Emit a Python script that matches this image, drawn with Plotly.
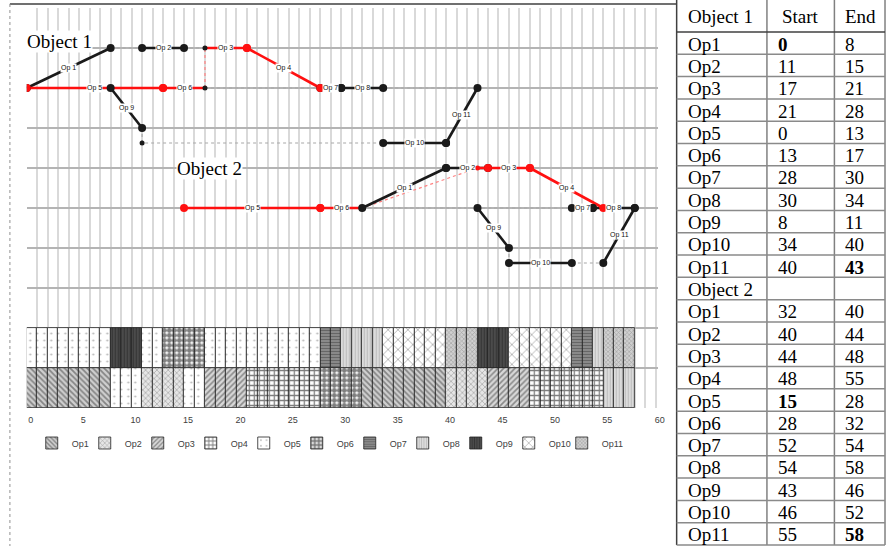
import plotly.graph_objects as go

W, H = 893, 546

# ---------------- data ----------------
ops = ["Op1", "Op2", "Op3", "Op4", "Op5", "Op6", "Op7", "Op8", "Op9", "Op10", "Op11"]
obj1_start = [0, 11, 17, 21, 0, 13, 28, 30, 8, 34, 40]
obj1_end = [8, 15, 21, 28, 13, 17, 30, 34, 11, 40, 43]
obj2_start = [32, 40, 44, 48, 15, 28, 52, 54, 43, 46, 55]
obj2_end = [40, 44, 48, 55, 28, 32, 54, 58, 46, 52, 58]
bold_cells = [("Object 1", "Op1", "start"), ("Object 1", "Op11", "end"),
              ("Object 2", "Op5", "start"), ("Object 2", "Op11", "end")]

# network node levels (rows of the diagram)
obj1_lvl_start = [8, 9, 9, 9, 8, 8, 8, 8, 8, 6.625, 6.625]
obj1_lvl_end = [9, 9, 9, 8, 8, 8, 8, 8, 7, 6.625, 8]
obj2_lvl_start = [5, 6, 6, 6, 5, 5, 5, 5, 5, 3.625, 3.625]
obj2_lvl_end = [6, 6, 6, 5, 5, 5, 5, 5, 4, 3.625, 5]
critical = [False, False, True, True, True, True, False, False, False, False, False]

# Gantt rows
rowA_ops = ["Op5", "Op9", "Op5", "Op6", "Op5", "Op7", "Op8", "Op10", "Op11", "Op9", "Op10", "Op7", "Op8", "Op11"]
rowA_start = [0, 8, 11, 13, 17, 28, 30, 34, 40, 43, 46, 52, 54, 55]
rowA_end = [8, 11, 13, 17, 28, 30, 34, 40, 43, 46, 52, 54, 55, 58]
rowB_ops = ["Op1", "Op5", "Op2", "Op5", "Op3", "Op4", "Op6", "Op1", "Op2", "Op3", "Op4", "Op8"]
rowB_start = [0, 8, 11, 15, 17, 21, 28, 32, 40, 44, 48, 55]
rowB_end = [8, 11, 15, 17, 21, 28, 32, 40, 44, 48, 55, 58]

x_ticks = list(range(0, 61))
x_tick_labels = [str(v) if v % 5 == 0 else "" for v in x_ticks]

# ---------------- styles ----------------
RED = "#ff1010"
BLK = "#1a1a1a"
GRAY_DOT = "#a8a8a8"
patterns = {
    "Op1": dict(shape="\\", fgcolor="#3a3a3a", bgcolor="#cfcfcf", size=4, solidity=0.45),
    "Op2": dict(shape="x", fgcolor="#5a5a5a", bgcolor="#e6e6e6", size=4, solidity=0.3),
    "Op3": dict(shape="/", fgcolor="#3a3a3a", bgcolor="#d8d8d8", size=4, solidity=0.4),
    "Op4": dict(shape="+", fgcolor="#000000", bgcolor="#ffffff", size=5, solidity=0.45),
    "Op5": dict(shape=".", fgcolor="#777777", bgcolor="#ffffff", size=7, solidity=0.08),
    "Op6": dict(shape=".", fgcolor="#000000", bgcolor="#ffffff", size=5, solidity=0.75),
    "Op7": dict(shape="-", fgcolor="#404040", bgcolor="#8c8c8c", size=3, solidity=0.4),
    "Op8": dict(shape="|", fgcolor="#9a9a9a", bgcolor="#dedede", size=3, solidity=0.4),
    "Op9": dict(shape="|", fgcolor="#1e1e1e", bgcolor="#4d4d4d", size=3, solidity=0.4),
    "Op10": dict(shape="x", fgcolor="#6a6a6a", bgcolor="#ffffff", size=7, solidity=0.25),
    "Op11": dict(shape="x", fgcolor="#6a6a6a", bgcolor="#d0d0d0", size=3, solidity=0.35),
}

fig = go.Figure()

# ---------------- Gantt bars ----------------
rows = [(rowA_ops, rowA_start, rowA_end, 1.5), (rowB_ops, rowB_start, rowB_end, 0.5)]
for op in ops:
    bases, ys = [], []
    for r_ops, r_s, r_e, yc in rows:
        for o, s, e in zip(r_ops, r_s, r_e):
            if o == op:
                for k in range(s, e):
                    bases.append(k)
                    ys.append(yc)
    p = patterns[op]
    fig.add_trace(go.Bar(
        orientation="h", x=[1] * len(bases), base=bases, y=ys, width=1, name=op,
        marker=dict(color=p["bgcolor"], pattern=p, line=dict(color="#222222", width=0.8)),
        hoverinfo="skip"))
# invisible spacer entry so the last legend label is not clipped
fig.add_trace(go.Bar(orientation="h", x=[None], y=[None], name=" ",
                     marker=dict(color="rgba(0,0,0,0)", line=dict(width=0)), hoverinfo="skip"))

# ---------------- network ----------------
def add_line(xs, ys, color, width, dash="solid"):
    fig.add_trace(go.Scatter(x=xs, y=ys, mode="lines", line=dict(color=color, width=width, dash=dash),
                             showlegend=False, hoverinfo="skip"))

def add_dots(xs, ys, color, size):
    fig.add_trace(go.Scatter(x=xs, y=ys, mode="markers", marker=dict(color=color, size=size),
                             showlegend=False, hoverinfo="skip"))

objects = [
    (obj1_start, obj1_end, obj1_lvl_start, obj1_lvl_end),
    (obj2_start, obj2_end, obj2_lvl_start, obj2_lvl_end),
]
S1 = dict(zip(ops, obj1_start)); E1 = dict(zip(ops, obj1_end))
S2 = dict(zip(ops, obj2_start)); E2 = dict(zip(ops, obj2_end))

# dotted connectors
gray_conn = [
    ([E1["Op1"], S1["Op2"]], [9, 9]),
    ([E1["Op2"], S1["Op3"]], [9, 9]),
    ([E1["Op6"], S1["Op7"]], [8, 8]),
    ([E1["Op8"], E1["Op11"]], [8, 8]),
    ([E1["Op9"], E1["Op9"], S1["Op10"]], [7, 6.625, 6.625]),
    ([E2["Op6"], S2["Op7"]], [5, 5]),
    ([E2["Op9"], S2["Op10"]], [4, 3.625]),
    ([E2["Op10"], S2["Op11"]], [3.625, 3.625]),
]
red_conn = [
    ([E1["Op6"], S1["Op3"]], [8, 9]),
    ([E2["Op6"], S2["Op9"]], [5, 6]),
]
for xs, ys in gray_conn:
    add_line(xs, ys, GRAY_DOT, 1.2, "dot")
for xs, ys in red_conn:
    add_line(xs, ys, "#ff8080", 1.2, "dot")

# operation segments
for st, en, l0, l1 in objects:
    for i, op in enumerate(ops):
        if not critical[i]:
            add_line([st[i], en[i]], [l0[i], l1[i]], BLK, 2.6)
    for i, op in enumerate(ops):
        if critical[i]:
            add_line([st[i], en[i]], [l0[i], l1[i]], RED, 2.6)
# red link into Op3 of object 2
add_line([S2["Op9"], S2["Op3"]], [6, 6], RED, 2.6)

red_ends = set()
for xs, ys in red_conn:
    red_ends.add((xs[0], ys[0])); red_ends.add((xs[-1], ys[-1]))

bx, by, rx, ry = [], [], [], []
for st, en, l0, l1 in objects:
    for i, op in enumerate(ops):
        for x, y in [(st[i], l0[i]), (en[i], l1[i])]:
            if critical[i]:
                if (x, y) not in red_ends:
                    rx.append(x); ry.append(y)
            else:
                bx.append(x); by.append(y)
add_dots(bx, by, BLK, 8)
add_dots(rx, ry, RED, 8)
add_dots([S1["Op3"], E1["Op6"], E1["Op9"]], [9, 8, 6.625], BLK, 5)
add_dots([S2["Op9"]], [6], RED, 5)

# operation labels
for st, en, l0, l1 in objects:
    for i, op in enumerate(ops):
        fig.add_annotation(x=(st[i] + en[i]) / 2, y=(l0[i] + l1[i]) / 2, text="Op " + op[2:],
                           showarrow=False, bgcolor="white", borderpad=0,
                           font=dict(size=7, family="Liberation Sans", color="#111111"))

fig.add_annotation(x=3.15, y=9.15, text="Object 1", showarrow=False, bgcolor="white", borderpad=0,
                   font=dict(size=19, family="Liberation Serif", color="black"))
fig.add_annotation(x=17.4, y=5.98, text="Object 2", showarrow=False, bgcolor="white", borderpad=0,
                   font=dict(size=19, family="Liberation Serif", color="black"))

# ---------------- table ----------------
def px(x):
    return x / W

def py(y):
    return 1 - y / H

shapes = []
COL_L, COL_1, COL_2, COL_R = 682, 773, 841, 892
HDR_B = 32
ROW_H = (545 - HDR_B) / 23.0
for xv, col in [(COL_L, "#404040"), (COL_1, "#808080"), (COL_2, "#808080"), (COL_R, "#808080")]:
    shapes.append(dict(type="line", xref="paper", yref="paper", x0=px(xv), x1=px(xv), y0=py(0), y1=py(545),
                       line=dict(color=col, width=1.5)))
shapes.append(dict(type="line", xref="paper", yref="paper", x0=px(COL_L), x1=px(COL_R), y0=py(HDR_B), y1=py(HDR_B),
                   line=dict(color="#404040", width=1.5)))
for r in range(1, 24):
    yv = HDR_B + r * ROW_H
    shapes.append(dict(type="line", xref="paper", yref="paper", x0=px(COL_L), x1=px(COL_R), y0=py(yv), y1=py(yv),
                       line=dict(color="#8a8a8a", width=1.5)))
# outer frame of the chart panel
shapes.append(dict(type="line", xref="paper", yref="paper", x0=px(10), x1=px(COL_L), y0=py(4), y1=py(4),
                   line=dict(color="#404040", width=1.5)))
shapes.append(dict(type="line", xref="paper", yref="paper", x0=px(10), x1=px(10), y0=py(4), y1=py(546),
                   line=dict(color="#909090", width=1, dash="dot")))

TFONT = dict(size=19, family="Liberation Serif", color="black")

def cell(x, y, text, bold=False):
    fig.add_annotation(xref="paper", yref="paper", x=px(x), y=py(y), text=("<b>%s</b>" % text) if bold else text,
                       xanchor="left", yanchor="middle", showarrow=False, font=TFONT)

cell(691, 16, "Object 1")
cell(786, 16, "Start")
cell(850, 16, "End")
table_rows = []
for i, op in enumerate(ops):
    table_rows.append(("Object 1", op, obj1_start[i], obj1_end[i]))
table_rows.append(("Object 2", None, None, None))
for i, op in enumerate(ops):
    table_rows.append(("Object 2", op, obj2_start[i], obj2_end[i]))
for r, (obj, op, s, e) in enumerate(table_rows):
    yc = HDR_B + (r + 0.5) * ROW_H + 1
    if op is None:
        cell(691, yc, obj)
        continue
    cell(691, yc, op)
    cell(782, yc, str(s), (obj, op, "start") in bold_cells)
    cell(850, yc, str(e), (obj, op, "end") in bold_cells)

# ---------------- layout ----------------
fig.update_layout(
    width=W, height=H, margin=dict(l=0, r=0, t=0, b=0),
    paper_bgcolor="white", plot_bgcolor="white",
    barmode="overlay", bargap=0,
    shapes=shapes,
    showlegend=True,
    legend=dict(orientation="h", x=px(32), xanchor="left", y=py(443), yanchor="middle",
                font=dict(size=9, color="#404040", family="Liberation Sans"),
                entrywidth=8, entrywidthmode="pixels", itemwidth=30,
                bgcolor="rgba(0,0,0,0)", traceorder="normal"),
    xaxis=dict(domain=[px(27), px(663)], range=[0, 60.2], tickvals=x_ticks, ticktext=x_tick_labels,
               showgrid=True, gridcolor="#d9d9d9", gridwidth=1.5, zeroline=False, showline=False,
               ticks="", tickfont=dict(size=9, color="#404040", family="Liberation Sans"),
               ticklabelshift=4, ticklabelstandoff=5, fixedrange=True),
    yaxis=dict(domain=[py(408), py(8)], range=[0, 10], tickvals=list(range(0, 11)),
               showgrid=True, gridcolor="#b4b4b4", gridwidth=1.5, zeroline=False, showline=False,
               showticklabels=False, ticks="", fixedrange=True),
)

fig.write_html("out.html", config={"displayModeBar": False},
               post_script="document.body.style.margin='0px';document.body.style.overflow='hidden';")
